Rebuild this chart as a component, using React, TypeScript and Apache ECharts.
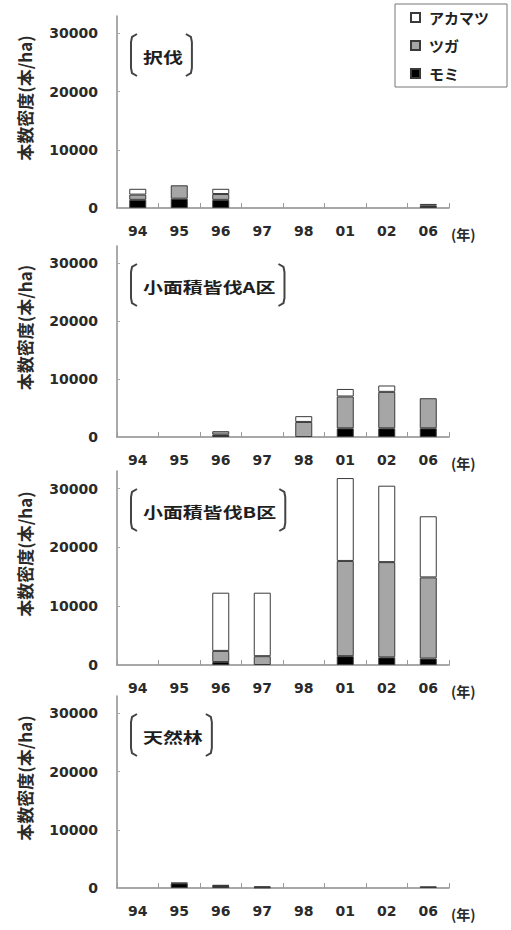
import React, { useEffect, useRef } from "react";
import * as echarts from "echarts";

const years = ["94", "95", "96", "97", "98", "01", "02", "06"];
const yTicks = [0, 10000, 20000, 30000];
const speciesNames = ["アカマツ", "ツガ", "モミ"];
const panelTitles = ["択伐", "小面積皆伐A区", "小面積皆伐B区", "天然林"];
const yearUnit = "(年)";

// 択伐
const momi1 = [1400, 1600, 1400, 0, 0, 0, 0, 400];
const tsuga1 = [900, 2300, 1000, 0, 0, 0, 0, 300];
const akamatsu1 = [1000, 0, 900, 0, 0, 0, 0, 0];
// 小面積皆伐A区
const momi2 = [0, 0, 400, 0, 0, 1500, 1500, 1500];
const tsuga2 = [0, 0, 600, 0, 2600, 5500, 6300, 5200];
const akamatsu2 = [0, 0, 0, 0, 1000, 1300, 1100, 0];
// 小面積皆伐B区
const momi3 = [0, 0, 500, 0, 0, 1500, 1300, 1100];
const tsuga3 = [0, 0, 1900, 1500, 0, 16200, 16200, 13800];
const akamatsu3 = [0, 0, 9900, 10800, 0, 14100, 13000, 10400];
// 天然林
const momi4 = [0, 800, 400, 100, 0, 0, 0, 0];
const tsuga4 = [0, 100, 100, 200, 0, 0, 0, 300];
const akamatsu4 = [0, 0, 0, 0, 0, 0, 0, 0];

const panels = [
  { momi: momi1, tsuga: tsuga1, akamatsu: akamatsu1 },
  { momi: momi2, tsuga: tsuga2, akamatsu: akamatsu2 },
  { momi: momi3, tsuga: tsuga3, akamatsu: akamatsu3 },
  { momi: momi4, tsuga: tsuga4, akamatsu: akamatsu4 },
];

const gridTops = [16, 246, 471, 696];
const gridHeights = [192, 191, 194, 192];
const GRID_LEFT = 117;
const GRID_RIGHT = 62;
const CHART_W = 511;

const NUM_FONT = "DejaVu Sans";
const JP_FONT = '"Noto Sans CJK JP"';
const TEXT_COLOR = "#2a2a2a";
const AXIS_COLOR = "#8c8c8c";
const TITLE_SCALE = 1.33;

export default function App() {
  const ref = useRef<HTMLDivElement>(null);

  useEffect(() => {
    if (!ref.current) return;
    const chart = echarts.init(ref.current, undefined, { renderer: "svg" });

    const canvas = document.createElement("canvas");
    const ctx = canvas.getContext("2d");

    const grids = gridTops.map((t, i) => ({
      left: GRID_LEFT,
      right: GRID_RIGHT,
      top: t,
      height: gridHeights[i],
    }));

    const xAxes = gridTops.map((_, i) => ({
      gridIndex: i,
      type: "category",
      data: years,
      axisLine: { show: true, lineStyle: { color: AXIS_COLOR, width: 1.5 } },
      axisTick: { show: true, inside: true, length: 5, lineStyle: { color: "#9a9a9a" } },
      axisLabel: {
        margin: 16,
        fontFamily: NUM_FONT,
        fontSize: 14,
        fontWeight: "bold",
        color: TEXT_COLOR,
      },
    }));

    const yAxes = gridTops.map((_, i) => ({
      gridIndex: i,
      type: "value",
      min: 0,
      max: 33000,
      interval: 10000,
      axisLine: { show: true, lineStyle: { color: AXIS_COLOR, width: 1.5 } },
      axisTick: {
        show: true,
        inside: true,
        length: 3,
        lineStyle: { color: "#aaaaaa" },
        customValues: yTicks,
      },
      axisLabel: {
        customValues: yTicks,
        formatter: (v: number) => String(v),
        margin: 19,
        fontFamily: NUM_FONT,
        fontSize: 14,
        fontWeight: "bold",
        color: TEXT_COLOR,
      },
      splitLine: { show: false },
      name: "本数密度(本/ha)",
      nameLocation: "middle",
      nameGap: 84,
      nameTextStyle: {
        fontFamily: JP_FONT,
        fontSize: 17,
        fontWeight: "bold",
        color: TEXT_COLOR,
        padding: [0, 0, 0, 28],
      },
    }));

    const toData = (arr: number[]) => arr.map((v) => (v === 0 ? "-" : v));
    const series: any[] = [];
    panels.forEach((p, i) => {
      const defs = [
        { name: "モミ", data: p.momi, color: "#000000" },
        { name: "ツガ", data: p.tsuga, color: "#a6a6a6" },
        { name: "アカマツ", data: p.akamatsu, color: "#ffffff" },
      ];
      defs.forEach((d) => {
        series.push({
          type: "bar",
          name: d.name,
          xAxisIndex: i,
          yAxisIndex: i,
          stack: "p" + i,
          barWidth: 17,
          data: toData(d.data),
          itemStyle: { color: d.color, borderColor: "#3a3a3a", borderWidth: 1 },
        });
      });
    });

    const titleFont = `bold 15px ${JP_FONT}`;
    const graphics: any[] = [];
    panelTitles.forEach((title, i) => {
      const top = gridTops[i] + 18;
      const bottom = gridTops[i] + 60;
      const cy = gridTops[i] + 41;
      let w = title.length * 15;
      if (ctx) {
        ctx.font = titleFont;
        w = ctx.measureText(title).width;
      }
      w *= TITLE_SCALE;
      const lx = 131;
      const tx = 143;
      const rx = tx + w + 9;
      graphics.push({
        type: "group",
        children: [
          {
            type: "polyline",
            shape: { points: [[lx + 6, top], [lx + 1, top + 3], [lx, top + 8], [lx, bottom - 8], [lx + 1, bottom - 3], [lx + 6, bottom]] },
            style: { stroke: "#444", lineWidth: 2, fill: null },
          },
          {
            type: "text",
            x: tx,
            y: cy,
            scaleX: TITLE_SCALE,
            style: {
              text: title,
              font: titleFont,
              fill: "#1e1e1e",
              verticalAlign: "middle",
              align: "left",
            },
          },
          {
            type: "polyline",
            shape: { points: [[rx - 6, top], [rx - 1, top + 3], [rx, top + 8], [rx, bottom - 8], [rx - 1, bottom - 3], [rx - 6, bottom]] },
            style: { stroke: "#444", lineWidth: 2, fill: null },
          },
        ],
      });
      // year unit label next to the last category label
      graphics.push({
        type: "text",
        x: CHART_W - GRID_RIGHT + 2,
        y: gridTops[i] + gridHeights[i] + 26,
        style: {
          text: yearUnit,
          font: `bold 14px ${JP_FONT}`,
          fill: TEXT_COLOR,
          verticalAlign: "middle",
          align: "left",
        },
      });
    });

    chart.setOption({
      animation: false,
      backgroundColor: "#ffffff",
      grid: grids,
      xAxis: xAxes,
      yAxis: yAxes,
      legend: {
        data: speciesNames,
        orient: "vertical",
        left: 395,
        top: 4,
        icon: "rect",
        itemWidth: 9,
        itemHeight: 9,
        itemGap: 13,
        padding: [6, 18, 6, 15],
        borderColor: "#777",
        borderWidth: 1,
        textStyle: {
          fontFamily: JP_FONT,
          fontSize: 15,
          fontWeight: "bold",
          color: "#222",
          padding: [0, 0, 0, 4],
        },
      },
      graphic: graphics,
      series,
    });

    return () => chart.dispose();
  }, []);

  return (
    <div
      ref={ref}
      style={{ position: "fixed", left: 0, top: 0, width: 511, height: 930 }}
    />
  );
}
